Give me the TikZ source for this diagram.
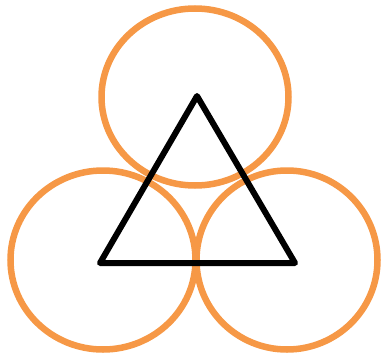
\documentclass[tikz,border=0pt]{standalone}
\definecolor{ring}{RGB}{246,152,70}
\begin{document}
\begin{tikzpicture}[x=1pt,y=-1pt,
  ringstyle/.style={draw=ring,line width=6.5pt},
  tri/.style={draw=black,line width=6pt,line join=round,line cap=round}]
\useasboundingbox (0,0) rectangle (385,356);
\draw[ringstyle] (195,97) ellipse [x radius=93.5, y radius=88.5];
\draw[ringstyle] (103,260) ellipse [x radius=92.5, y radius=89.5];
\draw[ringstyle] (287,260) ellipse [x radius=90.5, y radius=89.5];
\coordinate (t) at (197,96);
\coordinate (l) at (100,263);
\coordinate (r) at (295,263);
\draw[tri] (t) -- (l) -- (r) -- cycle;
\end{tikzpicture}
\end{document}
